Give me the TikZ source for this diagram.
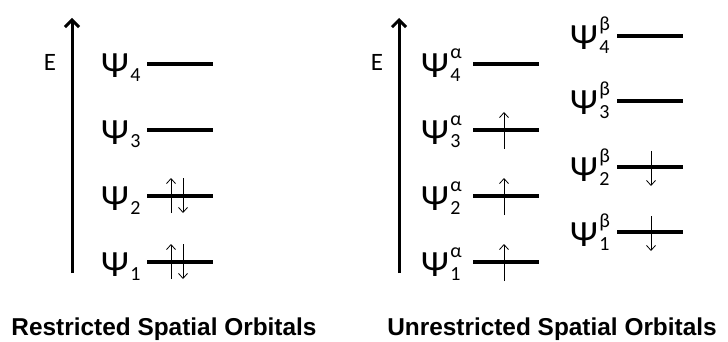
\documentclass[tikz,border=0pt]{standalone}
\usepackage{fontspec}
\setmainfont{Carlito}
\newfontfamily\labfont{Liberation Sans}
\usetikzlibrary{arrows.meta}
\newcommand\PsiLab[2]{{\fontsize{37}{37}\selectfont Ψ}\kern1.5pt\makebox[0pt][l]{\raisebox{19pt}{\fontsize{20}{20}\selectfont #1}}\raisebox{-4pt}{\fontsize{20}{20}\selectfont #2}}
\begin{document}
\begin{tikzpicture}[x=1pt,y=-1pt,
  axis/.style={line width=3pt,-{Straight Barb[length=7pt,width=14pt,line width=3pt]}},
  level/.style={line width=3.5pt},
  spin/.style={line width=0.8pt,-{Straight Barb[length=5pt,width=9pt,line width=0.8pt]}},
  psi/.style={anchor=base west,inner sep=0pt},
  elab/.style={inner sep=0pt,font=\fontsize{25}{28}\selectfont},
  title/.style={anchor=base,inner sep=0pt,font=\labfont\bfseries\fontsize{24.4}{28}\selectfont}]
\useasboundingbox (0,0) rectangle (728,342);
% ---------- left panel ----------
\coordinate (la0) at (72,273);
\coordinate (la1) at (72,18);
\draw[axis] (la0) -- (la1);
\node[elab] (le) at (50,62) {E};
\foreach \n/\y in {4/64,3/130,2/196,1/262}{
  \coordinate (l\n a) at (147,\y);
  \coordinate (l\n b) at (213,\y);
  \draw[level] (l\n a) -- (l\n b);
  \node[psi] (lp\n) at (101,\y+14) {\PsiLab{}{\n}};
}
\foreach \n/\y in {2/196,1/262}{
  \coordinate (lu\n0) at (171,\y+17);
  \coordinate (lu\n1) at (171,\y-18);
  \coordinate (ld\n0) at (183,\y-18);
  \coordinate (ld\n1) at (183,\y+17);
  \draw[spin] (lu\n0) -- (lu\n1);
  \draw[spin] (ld\n0) -- (ld\n1);
}
% ---------- right panel ----------
\coordinate (ra0) at (399,273);
\coordinate (ra1) at (399,18);
\draw[axis] (ra0) -- (ra1);
\node[elab] (re) at (377,62) {E};
\foreach \n/\y in {4/64,3/130,2/196,1/262}{
  \coordinate (ra\n a) at (473,\y);
  \coordinate (ra\n b) at (539,\y);
  \draw[level] (ra\n a) -- (ra\n b);
  \node[psi] (rpa\n) at (421,\y+14) {\PsiLab{α}{\n}};
}
\foreach \n/\y in {4/36,3/101,2/167,1/232}{
  \coordinate (rb\n a) at (617,\y);
  \coordinate (rb\n b) at (683,\y);
  \draw[level] (rb\n a) -- (rb\n b);
  \node[psi] (rpb\n) at (570,\y+14) {\PsiLab{β}{\n}};
}
\foreach \n/\y in {3/130,2/196,1/262}{
  \coordinate (ru\n0) at (504,\y+19);
  \coordinate (ru\n1) at (504,\y-18);
  \draw[spin] (ru\n0) -- (ru\n1);
}
\foreach \n/\y in {2/167,1/232}{
  \coordinate (rd\n0) at (651,\y-16);
  \coordinate (rd\n1) at (651,\y+19);
  \draw[spin] (rd\n0) -- (rd\n1);
}
% ---------- titles ----------
\node[title] (t1) at (164,335) {Restricted Spatial Orbitals};
\node[title] (t2) at (552,335) {Unrestricted Spatial Orbitals};
\end{tikzpicture}
\end{document}
